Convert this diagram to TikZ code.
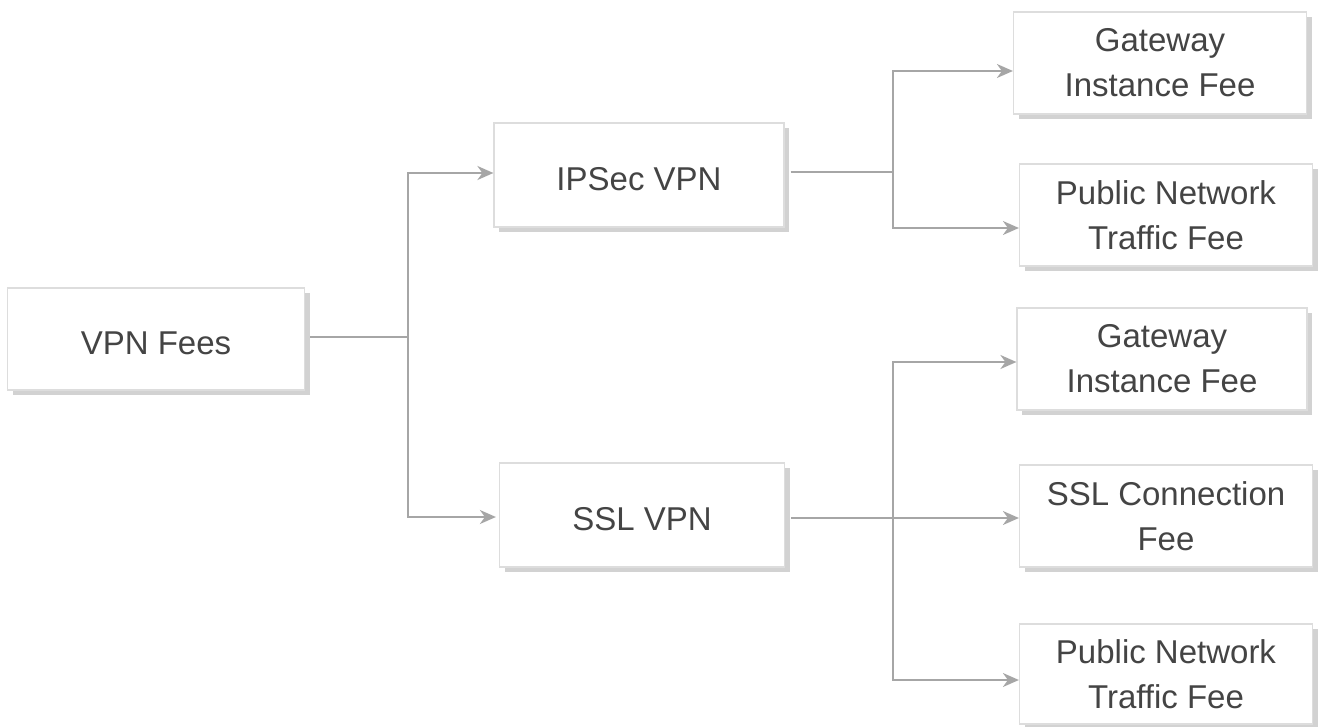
\documentclass[tikz,border=0pt]{standalone}
\usepackage{fontspec}
\setmainfont{Liberation Sans}
\usetikzlibrary{shadows,arrows.meta,calc}
\definecolor{txt}{HTML}{444444}
\definecolor{bord}{HTML}{DDDDDD}
\definecolor{shad}{HTML}{D2D2D2}
\definecolor{conn}{HTML}{A6A6A6}
\tikzset{
  fee/.style={draw=bord, line width=1.2pt, fill=white, rectangle, align=center,
    text=txt, font=\fontsize{33}{45}\selectfont, inner sep=0pt,
    execute at begin node={\rule{0pt}{32pt}},
    drop shadow={shadow xshift=5pt, shadow yshift=-5pt, fill=shad, opacity=1}},
  link/.style={draw=conn, line width=2pt},
  arr/.style={link, -{Stealth[length=16pt,width=14pt,inset=5pt]}}
}
\begin{document}
\begin{tikzpicture}[x=1pt,y=-1pt]
\useasboundingbox (0,0) rectangle (1321,727);
\node[fee, minimum width=297pt, minimum height=102pt] (root) at (156,339) {VPN Fees};
\node[fee, minimum width=290pt, minimum height=104pt] (ipsec) at (639,175) {IPSec VPN};
\node[fee, minimum width=285pt, minimum height=104pt] (ssl) at (642,515) {SSL VPN};
\node[fee, minimum width=293pt, minimum height=102pt] (gw1) at (1160,63) {Gateway\\Instance Fee};
\node[fee, minimum width=293pt, minimum height=102pt] (pn1) at (1166,215) {Public Network\\Traffic Fee};
\node[fee, minimum width=290pt, minimum height=102pt] (gw2) at (1162,359) {Gateway\\Instance Fee};
\node[fee, minimum width=293pt, minimum height=102pt] (sc) at (1166,516) {SSL Connection\\Fee};
\node[fee, minimum width=293pt, minimum height=100pt] (pn2) at (1166,674) {Public Network\\Traffic Fee};
% junctions
\coordinate (j0) at (408,337);
\coordinate (j1) at (893,172);
\coordinate (j2) at (893,518);
% root to level 1
\draw[link] ($(root.east)+(5,-2)$) -- (j0);
\draw[arr] (j0) |- ($(ipsec.west)+(0,-2)$);
\draw[arr] (j0) |- ($(ssl.west)+(-3,2)$);
% ipsec children
\draw[link] ($(ipsec.east)+(6,-3)$) -- (j1);
\draw[arr] (j1) |- ($(gw1.west)+(0,8)$);
\draw[arr] (j1) |- ($(pn1.west)+(0,13)$);
% ssl children
\draw[link] ($(ssl.east)+(6,3)$) -- (j2);
\draw[arr] (j2) |- ($(gw2.west)+(0,3)$);
\draw[arr] (j2) -- ($(sc.west)+(0,2)$);
\draw[arr] (j2) |- ($(pn2.west)+(0,6)$);
\end{tikzpicture}
\end{document}
